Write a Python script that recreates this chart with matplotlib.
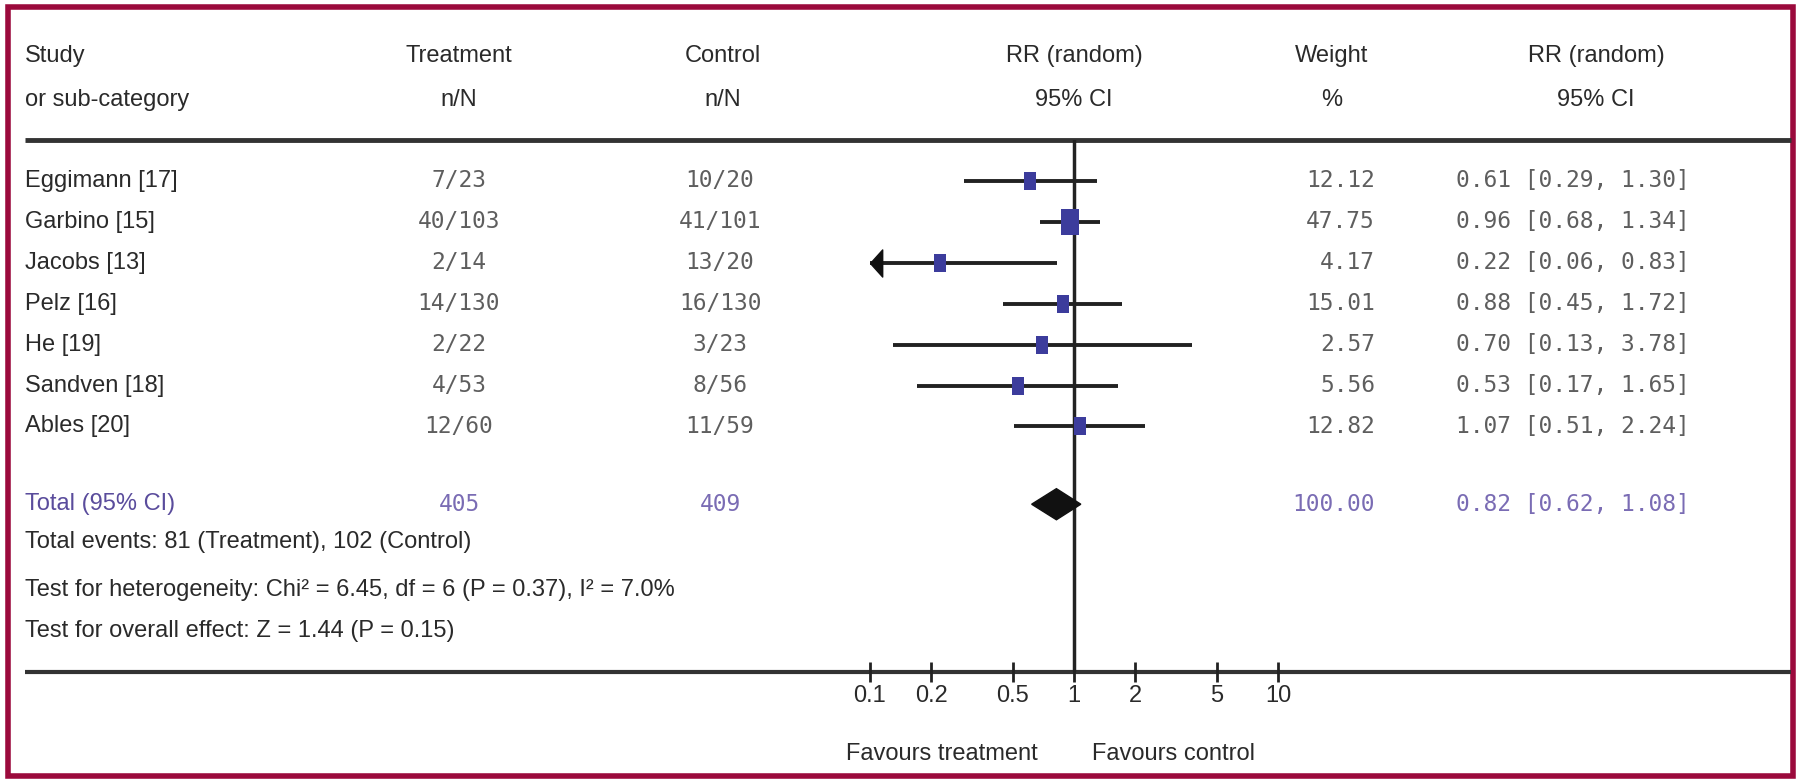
import matplotlib
matplotlib.use("Agg")
import matplotlib.pyplot as plt
import matplotlib.transforms as mtransforms
from matplotlib.path import Path
from matplotlib.patches import Rectangle
import numpy as np

# data
studies = ["Eggimann [17]", "Garbino [15]", "Jacobs [13]", "Pelz [16]", "He [19]", "Sandven [18]", "Ables [20]"]
treat_nN = ["7/23", "40/103", "2/14", "14/130", "2/22", "4/53", "12/60"]
ctrl_nN = ["10/20", "41/101", "13/20", "16/130", "3/23", "8/56", "11/59"]
weights = [12.12, 47.75, 4.17, 15.01, 2.57, 5.56, 12.82]
rr = [0.61, 0.96, 0.22, 0.88, 0.70, 0.53, 1.07]
rr_lo = [0.29, 0.68, 0.06, 0.45, 0.13, 0.17, 0.51]
rr_hi = [1.30, 1.34, 0.83, 1.72, 3.78, 1.65, 2.24]
total_treat, total_ctrl = "405", "409"
total_weight = 100.00
total_rr, total_lo, total_hi = 0.82, 0.62, 1.08
footer = ["Total events: 81 (Treatment), 102 (Control)",
          "Test for heterogeneity: Chi\u00b2 = 6.45, df = 6 (P = 0.37), I\u00b2 = 7.0%",
          "Test for overall effect: Z = 1.44 (P = 0.15)"]
ticks = [0.1, 0.2, 0.5, 1, 2, 5, 10]
tick_labels = ["0.1", "0.2", "0.5", "1", "2", "5", "10"]

W, H = 1800, 781
SANS = ["Liberation Sans", "DejaVu Sans"]
MONO = ["DejaVu Sans Mono"]
TXT = "#2a2a2a"
NUM = "#5e5e5e"
PURP = "#5a4c9c"
PURP2 = "#7a6cb4"
SQ = "#3c3c9c"
fs = 17
fm = 16.5

fig = plt.figure(figsize=(W / 100, H / 100), dpi=100)
ax0 = fig.add_axes([0, 0, 1, 1])
ax0.set_xlim(0, W)
ax0.set_ylim(H, 0)
ax0.axis("off")

# forest axes: 0.1 at x=870, 10 at x=1278, rows between y=140 and y=672
ax = fig.add_axes([870 / W, (H - 672) / H, 408 / W, 532 / H])
ax.set_xscale("log")
ax.set_xlim(0.1, 10)
ax.set_ylim(12.0, -1.0)
ax.patch.set_alpha(0)
for s in ax.spines.values():
    s.set_visible(False)
ax.set_yticks([])
ax.set_xticks(ticks)
ax.set_xticklabels(tick_labels, fontsize=fs, family=SANS, color=TXT)
ax.xaxis.set_minor_locator(matplotlib.ticker.NullLocator())
ax.tick_params(axis="x", direction="inout", length=15, width=2, color="#222222", pad=2)

# frame and rules
ax0.add_patch(Rectangle((8, 7), 1785, 769, fill=False, edgecolor="#9b0a3c", lw=4))
ax0.plot([25, 1791], [140, 140], color="#333333", lw=3.5, solid_capstyle="butt")
ax0.plot([25, 1791], [672, 672], color="#333333", lw=3, solid_capstyle="butt")
ax.axvline(1, color="#222222", lw=2.5, zorder=1)

# headers
hdr = [(25, "Study", "or sub-category", "left"),
       (459, "Treatment", "n/N", "center"),
       (723, "Control", "n/N", "center"),
       (1074, "RR (random)", "95% CI", "center"),
       (1332, "Weight", "%", "center"),
       (1596, "RR (random)", "95% CI", "center")]
for x, t1, t2, ha in hdr:
    ax0.text(x, 56, t1, ha=ha, va="center", fontsize=fs, family=SANS, color=TXT)
    ax0.text(x, 100, t2, ha=ha, va="center", fontsize=fs, family=SANS, color=TXT)

tr = mtransforms.blended_transform_factory(ax0.transData, ax.transData)
rows = np.arange(len(studies))
for i in rows:
    ax0.text(25, i, studies[i], transform=tr, ha="left", va="center", fontsize=fs, family=SANS, color=TXT)
    ax0.text(459, i, treat_nN[i], transform=tr, ha="center", va="center", fontsize=fm, family=MONO, color=NUM)
    ax0.text(720, i, ctrl_nN[i], transform=tr, ha="center", va="center", fontsize=fm, family=MONO, color=NUM)
    ax0.text(1375, i, f"{weights[i]:.2f}", transform=tr, ha="right", va="center", fontsize=fm, family=MONO, color=NUM)
    ax0.text(1456, i, f"{rr[i]:.2f} [{rr_lo[i]:.2f}, {rr_hi[i]:.2f}]", transform=tr, ha="left", va="center",
             fontsize=fm, family=MONO, color=NUM)

# confidence intervals
sq_path = Path([(-0.69, -1), (0.69, -1), (0.69, 1), (-0.69, 1), (-0.69, -1)])
arrow_path = Path([(0, 0), (0.9, -1), (0.9, 1), (0, 0)])
for i in rows:
    lo = max(rr_lo[i], 0.1)
    ax.plot([lo, rr_hi[i]], [i, i], color="#222222", lw=2.8, solid_capstyle="butt", zorder=2, clip_on=False)
    if rr_lo[i] < 0.1:
        ax.plot([0.1], [i], marker=arrow_path, markersize=19.5, color="#111111", zorder=3, clip_on=False)
    h = max(18, 3.9 * np.sqrt(weights[i]))
    ax.plot([rr[i]], [i], marker=sq_path, markersize=h * 0.72, color=SQ, markeredgewidth=0, zorder=4)

# total row
yt = 7.9
ax.fill([total_lo, total_rr, total_hi, total_rr], [yt, yt - 0.38, yt, yt + 0.38], color="#111111", zorder=4)
ax0.text(25, yt, "Total (95% CI)", transform=tr, ha="left", va="center", fontsize=fs, family=SANS, color=PURP)
ax0.text(459, yt, total_treat, transform=tr, ha="center", va="center", fontsize=fm, family=MONO, color=PURP2)
ax0.text(720, yt, total_ctrl, transform=tr, ha="center", va="center", fontsize=fm, family=MONO, color=PURP2)
ax0.text(1375, yt, f"{total_weight:.2f}", transform=tr, ha="right", va="center", fontsize=fm, family=MONO, color=PURP2)
ax0.text(1456, yt, f"{total_rr:.2f} [{total_lo:.2f}, {total_hi:.2f}]", transform=tr, ha="left", va="center",
         fontsize=fm, family=MONO, color=PURP2)

for y, t in zip([542, 590, 631], footer):
    ax0.text(25, y, t, ha="left", va="center", fontsize=fs, family=SANS, color=TXT)

ax0.text(942, 754, "Favours treatment", ha="center", va="center", fontsize=fs, family=SANS, color=TXT)
ax0.text(1174, 754, "Favours control", ha="center", va="center", fontsize=fs, family=SANS, color=TXT)

fig.savefig("out.png", dpi=100)
